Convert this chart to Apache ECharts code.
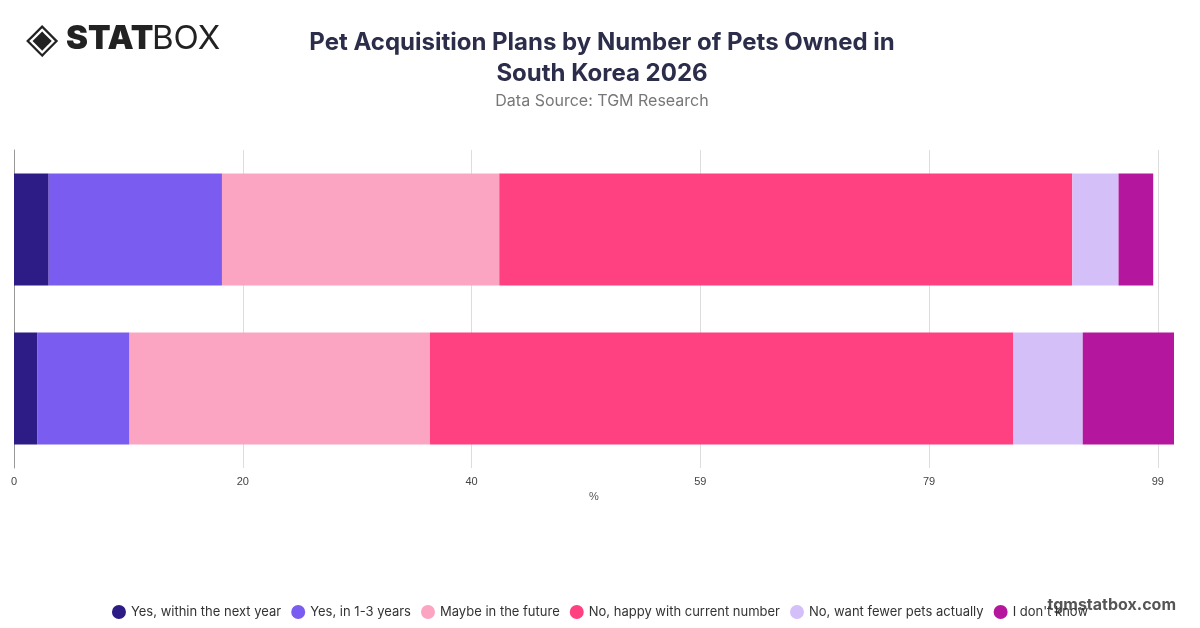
<!DOCTYPE html>
<html><head><meta charset="utf-8">
<script src="https://cdn.jsdelivr.net/npm/echarts@6/dist/echarts.min.js"></script>
<style>html,body{margin:0;padding:0;background:#fff}#chart{width:1200px;height:628px}</style>
</head><body><div id="chart"></div>
<script>
var categories = ["2 or more pets", "1 pet"];
var seriesNames = ["Yes, within the next year", "Yes, in 1-3 years", "Maybe in the future", "No, happy with current number", "No, want fewer pets actually", "I don't know"];
var colors = ["#2d1b86", "#7b5cf0", "#fca5c3", "#ff4081", "#d5bff9", "#b4179e"];
// values per series, bottom bar first, top bar second
var withinYear = [2, 3];
var in1to3 = [8, 15];
var maybe = [26, 24];
var happy = [50.5, 49.6];
var fewer = [6, 4];
var dontKnow = [8, 3];
var allValues = [withinYear, in1to3, maybe, happy, fewer, dontKnow];

var chart = echarts.init(document.getElementById('chart'));
var series = allValues.map(function (vals, i) {
  return { name: seriesNames[i], type: 'bar', stack: 'total', data: vals, barWidth: 112, itemStyle: { color: colors[i] } };
});
chart.setOption({
  animation: false,
  title: {
    text: 'Pet Acquisition Plans by Number of Pets Owned in\nSouth Korea 2026',
    subtext: 'Data Source: TGM Research',
    left: 597, top: 22, textAlign: 'center',
    textStyle: { fontFamily: 'Inter', fontSize: 24, fontWeight: 'bold', color: '#2b2d4a', lineHeight: 31 },
    subtextStyle: { fontFamily: 'Inter', fontSize: 16, color: '#777', lineHeight: 20 },
    itemGap: 2
  },
  graphic: [
    { type: 'text', left: 26, top: 20, style: { text: '◈', fontSize: 42, fill: '#222', fontFamily: 'DejaVu Sans' } },
    { type: 'text', left: 66, top: 23, style: { text: 'STAT', fontSize: 33, fontWeight: 900, fill: '#222', fontFamily: 'Inter' } },
    { type: 'text', left: 152, top: 23, style: { text: 'BOX', fontSize: 33, fontWeight: 400, fill: '#222', fontFamily: 'Inter' } },
    { type: 'text', right: 24, top: 597, style: { text: 'tgmstatbox.com', fontSize: 16, fontWeight: 'bold', fill: '#555', fontFamily: 'Inter' } }
  ],
  legend: {
    bottom: 4, left: 'center', icon: 'circle', itemWidth: 14, itemHeight: 14, itemGap: 10,
    textStyle: { fontFamily: 'Inter', fontSize: 13, color: '#333' }
  },
  grid: { left: 14, right: 26, top: 150, bottom: 160, containLabel: false },
  xAxis: {
    type: 'value', min: 0, max: 100.4, interval: 19.8,
    name: '%', nameLocation: 'middle', nameGap: 22,
    nameTextStyle: { fontSize: 11, color: '#555' },
    axisLabel: { fontSize: 11, color: '#444', formatter: function (v) { return Math.round(v); }, showMaxLabel: false },
    splitLine: { showMaxLine: false, lineStyle: { color: '#ddd' } }
  },
  yAxis: {
    type: 'category', data: categories,
    axisLabel: { show: false }, axisTick: { show: false },
    axisLine: { lineStyle: { color: '#999' } }
  },
  series: series
});
</script></body></html>
